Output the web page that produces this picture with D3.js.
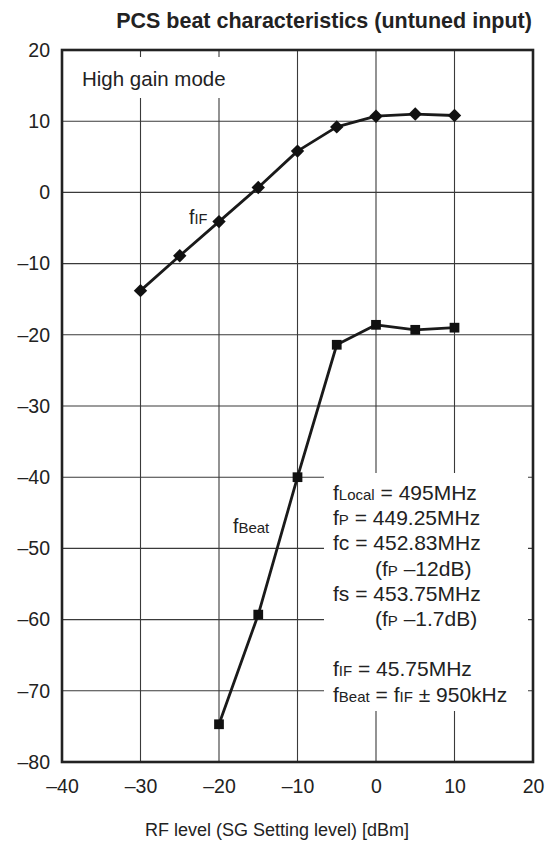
<!DOCTYPE html>
<html>
  <head>
    <meta charset="utf-8">
    <title>PCS beat characteristics</title>
    <script src="https://cdn.jsdelivr.net/npm/d3@7"></script>
    <style>
     body { margin: 0; background: #fff; }
     text { font-family: "Liberation Sans", Arial, sans-serif; fill: #222; }
     .grid line { stroke: #3a3a3a; stroke-width: 1.1; }
     .frame { fill: none; stroke: #222; stroke-width: 2.6; }
     .curve { fill: none; stroke: #1a1a1a; stroke-width: 2.8; stroke-linejoin: round; }
     .axis path, .axis line { display: none; }
    </style>
  </head>
  <body>
    <svg id="chart" width="555" height="841"></svg>
    <script>
     // RF level (dBm) and measured levels
     var rfIF = [-30, -25, -20, -15, -10, -5, 0, 5, 10];
     var levelIF = [-13.8, -8.9, -4.1, 0.7, 5.8, 9.2, 10.7, 11.0, 10.8];
     var rfBeat = [-20, -15, -10, -5, 0, 5, 10];
     var levelBeat = [-74.7, -59.3, -40.0, -21.4, -18.6, -19.3, -19.0];

     var xTicks = [-40, -30, -20, -10, 0, 10, 20];
     var yTicks = [20, 10, 0, -10, -20, -30, -40, -50, -60, -70, -80];

     // legend lines: [indent, [text, small?], ...]
     var notes = [
       [0, ["f", 0], ["Local", 1], [" = 495MHz", 0]],
       [0, ["f", 0], ["P", 1], [" = 449.25MHz", 0]],
       [0, ["fc = 452.83MHz", 0]],
       [1, ["(f", 0], ["P", 1], [" –12dB)", 0]],
       [0, ["fs = 453.75MHz", 0]],
       [1, ["(f", 0], ["P", 1], [" –1.7dB)", 0]],
       [0],
       [0, ["f", 0], ["IF", 1], [" = 45.75MHz", 0]],
       [0, ["f", 0], ["Beat", 1], [" = f", 0], ["IF", 1], [" ± 950kHz", 0]]
     ];

     var svg = d3.select("#chart");

     var x = d3.scaleLinear().domain([-40, 20]).range([62, 533]);
     var y = d3.scaleLinear().domain([-80, 20]).range([762, 50]);

     var dash = function(d) { return d < 0 ? "–" + Math.abs(d) : String(d); };

     var grid = svg.append("g").attr("class", "grid");
     grid.selectAll(".vx").data(xTicks.slice(1, -1)).enter().append("line")
         .attr("x1", x).attr("x2", x)
         .attr("y1", y(20)).attr("y2", y(-80));
     grid.selectAll(".hy").data(yTicks.slice(1, -1)).enter().append("line")
         .attr("x1", x(-40)).attr("x2", x(20))
         .attr("y1", y).attr("y2", y);

     // white boxes behind the notes
     svg.append("rect").attr("x", 63).attr("y", 57)
        .attr("width", 180).attr("height", 41).attr("fill", "#fff");
     svg.append("rect").attr("x", 324).attr("y", 473)
        .attr("width", 204).attr("height", 238).attr("fill", "#fff");

     svg.append("rect").attr("class", "frame")
        .attr("x", x(-40)).attr("y", y(20))
        .attr("width", x(20) - x(-40)).attr("height", y(-80) - y(20));

     svg.append("g").attr("class", "axis")
        .attr("transform", "translate(" + x(-40) + ",0)")
        .call(d3.axisLeft(y).tickValues(yTicks).tickSize(0).tickPadding(12).tickFormat(dash))
        .selectAll("text").style("font-size", "19.5px").style("font-family", null).attr("fill", "#222");

     svg.append("g").attr("class", "axis")
        .attr("transform", "translate(0," + y(-80) + ")")
        .call(d3.axisBottom(x).tickValues(xTicks).tickSize(0).tickPadding(17).tickFormat(dash))
        .selectAll("text").style("font-size", "19.5px").style("font-family", null).attr("fill", "#222");

     var line = d3.line().x(function(d) { return x(d[0]); }).y(function(d) { return y(d[1]); });
     var ifPts = d3.zip(rfIF, levelIF);
     var beatPts = d3.zip(rfBeat, levelBeat);

     svg.append("path").datum(ifPts).attr("class", "curve").attr("d", line);
     svg.append("path").datum(beatPts).attr("class", "curve").attr("d", line);

     svg.selectAll(".dia").data(ifPts).enter().append("path")
        .attr("d", d3.symbol(d3.symbolSquare, 90))
        .attr("transform", function(d) { return "translate(" + x(d[0]) + "," + y(d[1]) + ") rotate(45)"; })
        .attr("fill", "#111");
     svg.selectAll(".sq").data(beatPts).enter().append("path")
        .attr("d", d3.symbol(d3.symbolSquare, 95))
        .attr("transform", function(d) { return "translate(" + x(d[0]) + "," + y(d[1]) + ")"; })
        .attr("fill", "#111");

     // texts
     svg.append("text").attr("x", 324).attr("y", 28).attr("text-anchor", "middle")
        .style("font-size", "21.5px").style("font-weight", "bold").text("PCS beat characteristics (untuned input)");
     svg.append("text").attr("x", 277).attr("y", 836).attr("text-anchor", "middle")
        .style("font-size", "18px").text("RF level (SG Setting level) [dBm]");
     svg.append("text").attr("x", 82).attr("y", 86)
        .style("font-size", "20.5px").text("High gain mode");

     var label = function(px, py, parts, big, small) {
       var t = svg.append("text").attr("x", px).attr("y", py);
       parts.forEach(function(p) {
         t.append("tspan").style("font-size", (p[1] ? small : big) + "px").text(p[0]);
       });
     };
     label(189, 224, [["f", 0], ["IF", 1]], 19.5, 14.5);
     label(233, 533, [["f", 0], ["Beat", 1]], 19.5, 15);

     notes.forEach(function(n, i) {
       if (n.length < 2) return;
       label(n[0] ? 375 : 333, 500 + i * 25.2, n.slice(1), 21, 15);
     });
    </script>
  </body>
</html>
